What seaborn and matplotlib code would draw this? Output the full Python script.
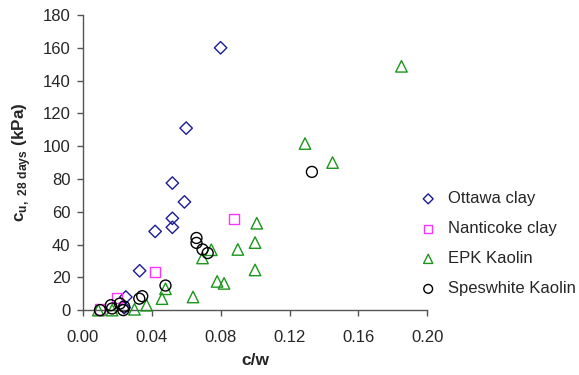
import matplotlib
matplotlib.use("Agg")
import matplotlib.pyplot as plt
import seaborn as sns
import pandas as pd

# ---- data ----
ottawa_cw = [0.080, 0.060, 0.052, 0.059, 0.052, 0.052, 0.042, 0.033, 0.025, 0.024]
ottawa_cu = [160.0, 111.0, 77.5, 66.0, 56.0, 50.5, 48.0, 24.0, 8.0, 1.5]

nanticoke_cw = [0.088, 0.042, 0.020, 0.010]
nanticoke_cu = [55.5, 23.2, 7.5, 0.4]

epk_cw = [0.009, 0.017, 0.030, 0.037, 0.046, 0.048, 0.064, 0.0695, 0.0746,
          0.078, 0.082, 0.090, 0.100, 0.101, 0.100, 0.129, 0.145, 0.185]
epk_cu = [0.0, 0.0, 0.5, 3.0, 7.0, 13.0, 8.0, 31.8, 36.8,
          17.5, 16.3, 37.0, 41.2, 53.0, 24.5, 101.6, 90.0, 148.7]

spes_cw = [0.010, 0.0163, 0.017, 0.0215, 0.024, 0.0235, 0.0328, 0.0345,
           0.048, 0.066, 0.066, 0.0695, 0.0725, 0.133]
spes_cu = [0.0, 3.0, 1.0, 4.0, 2.2, 0.0, 7.0, 8.5,
           15.0, 44.0, 41.0, 37.0, 34.8, 84.3]

series_names = ["Ottawa clay", "Nanticoke clay", "EPK Kaolin", "Speswhite Kaolin"]
x_ticks = [0.00, 0.04, 0.08, 0.12, 0.16, 0.20]
y_ticks = [0, 20, 40, 60, 80, 100, 120, 140, 160, 180]

frames = []
for name, xs, ys in zip(series_names,
                        [ottawa_cw, nanticoke_cw, epk_cw, spes_cw],
                        [ottawa_cu, nanticoke_cu, epk_cu, spes_cu]):
    frames.append(pd.DataFrame({"cw": xs, "cu": ys, "material": name}))
df = pd.concat(frames, ignore_index=True)

styles = {
    "Ottawa clay": dict(marker="D", color="#1c1c96", s=40),
    "Nanticoke clay": dict(marker="s", color="#ff33ff", s=54),
    "EPK Kaolin": dict(marker="^", color="#1a961a", s=68),
    "Speswhite Kaolin": dict(marker="o", color="#000000", s=62),
}

sns.set_style("ticks")
plt.rcParams["font.family"] = ["Liberation Sans", "DejaVu Sans"]
plt.rcParams["mathtext.fontset"] = "custom"
plt.rcParams["mathtext.rm"] = "Liberation Sans"
plt.rcParams["mathtext.bf"] = "Liberation Sans:bold"

fig = plt.figure(figsize=(5.79, 3.75), dpi=100)
ax = fig.add_axes([0.143, 0.173, 0.595, 0.787])

for name in series_names:
    sub = df[df["material"] == name]
    st = styles[name]
    sns.scatterplot(data=sub, x="cw", y="cu", ax=ax, marker=st["marker"],
                    s=st["s"], color=st["color"], facecolor="none",
                    edgecolor=st["color"], linewidth=1.0, label=name,
                    clip_on=False, zorder=3)

ax.set_xlim(0, 0.20)
ax.set_ylim(0, 180)
ax.set_xticks(x_ticks)
ax.set_xticklabels([f"{t:.2f}" for t in x_ticks])
ax.set_yticks(y_ticks)
ax.set_yticklabels([str(t) for t in y_ticks])
ax.tick_params(axis="both", labelsize=12, direction="out", length=4,
               width=1, color="#555555")
ax.tick_params(axis="x", pad=10)
ax.tick_params(axis="y", pad=5)
for sp in ["top", "right"]:
    ax.spines[sp].set_visible(False)
for sp in ["left", "bottom"]:
    ax.spines[sp].set_color("#555555")
    ax.spines[sp].set_linewidth(1)

ax.set_xlabel("c/w", fontsize=12.5, fontweight="bold", labelpad=6)
ax.set_ylabel(r"$\mathbf{c}_{\mathbf{u,\ 28\ days}}$ (kPa)", fontsize=12.3,
              fontweight="bold")
ax.yaxis.set_label_coords(-0.1435, 0.5)

leg = ax.legend(loc="center left", bbox_to_anchor=(0.930, 0.225), frameon=False,
                fontsize=12, handletextpad=0.6, labelspacing=0.9,
                handlelength=1.2, markerscale=0.8)

fig.savefig("out.png", dpi=100)
